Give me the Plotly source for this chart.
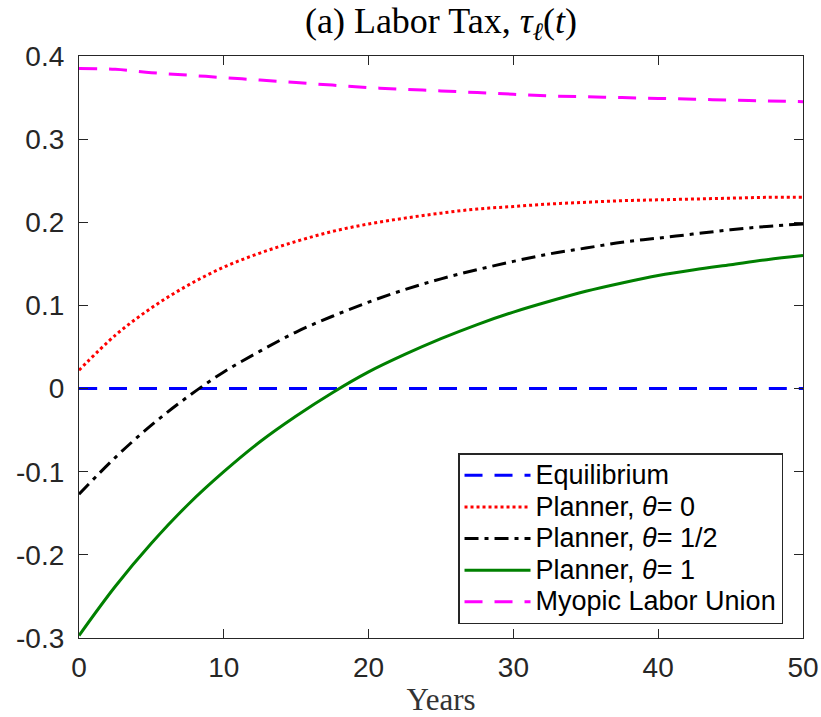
import plotly.graph_objects as go

years = [0, 2.5, 5, 7.5, 10, 12.5, 15, 17.5, 20, 22.5, 25, 27.5, 30, 32.5, 35, 37.5, 40, 42.5, 45, 47.5, 50]
equilibrium = [0.0] * len(years)
planner_0 = [0.022, 0.064, 0.097, 0.124, 0.146, 0.163, 0.177, 0.189, 0.198, 0.205, 0.211,
             0.216, 0.219, 0.222, 0.224, 0.226, 0.227, 0.228, 0.229, 0.230, 0.230]
planner_half = [-0.127, -0.083, -0.044, -0.010, 0.020, 0.045, 0.068, 0.087, 0.104, 0.119, 0.132,
                0.143, 0.153, 0.162, 0.169, 0.176, 0.181, 0.186, 0.191, 0.195, 0.198]
planner_1 = [-0.297, -0.238, -0.186, -0.140, -0.100, -0.064, -0.033, -0.005, 0.020, 0.041, 0.060,
             0.077, 0.092, 0.105, 0.117, 0.127, 0.136, 0.143, 0.149, 0.155, 0.160]
myopic_union = [0.385, 0.384, 0.380, 0.377, 0.374, 0.371, 0.368, 0.365, 0.362, 0.360, 0.358,
                0.356, 0.354, 0.352, 0.351, 0.350, 0.349, 0.348, 0.347, 0.346, 0.345]

x_ticks = [0, 10, 20, 30, 40, 50]
y_ticks = [-0.3, -0.2, -0.1, 0, 0.1, 0.2, 0.3, 0.4]
y_tick_labels = ["-0.3", "-0.2", "-0.1", "0", "0.1", "0.2", "0.3", "0.4"]

series_names = ["Equilibrium", "Planner, <i>θ</i>= 0", "Planner, <i>θ</i>= 1/2",
                "Planner, <i>θ</i>= 1", "Myopic Labor Union"]
series_values = [equilibrium, planner_0, planner_half, planner_1, myopic_union]
series_colors = ["#0000ff", "#ff0000", "#000000", "#008000", "#ff00ff"]
series_dashes = ["18px,12px", "dot", "14px,6px,4px,6px", "solid", "18px,12px"]

fig = go.Figure()
for name, vals, color, dash in zip(series_names, series_values, series_colors, series_dashes):
    fig.add_trace(go.Scatter(x=years, y=vals, mode="lines",
                             name=f'<span style="font-size:27px">{name}</span>',
                             line=dict(color=color, width=3, dash=dash, shape="spline")))

axis_color = "#262626"
serif = "Liberation Serif, Times New Roman, serif"
sans = "Liberation Sans, Arial, Helvetica, sans-serif"
fig.update_layout(
    width=821, height=717,
    margin=dict(l=79, r=18, t=56, b=79, autoexpand=False),
    paper_bgcolor="white", plot_bgcolor="white",
    title=dict(text="(a) Labor Tax, <i>τ</i><sub><i>ℓ</i></sub>(<i>t</i>)",
               x=441 / 821, xref="container", xanchor="center",
               y=1 - 20 / 717, yref="container", yanchor="middle",
               font=dict(family=serif, size=36, color="#000000")),
    xaxis=dict(range=[0, 50], tickvals=x_ticks, ticks="inside", ticklen=9, tickwidth=1.3,
               tickcolor=axis_color, showline=True, linecolor=axis_color, linewidth=1.3,
               mirror="ticks", showgrid=False, zeroline=False, ticklabelstandoff=4,
               tickfont=dict(family=sans, size=28, color=axis_color),
               title=dict(text="Years", standoff=6,
                          font=dict(family=serif, size=31, color="#333333"))),
    yaxis=dict(range=[-0.3, 0.4], tickvals=y_ticks, ticktext=y_tick_labels, ticks="inside",
               ticklen=9, tickwidth=1.3, tickcolor=axis_color, showline=True, linecolor=axis_color,
               linewidth=1.3, mirror="ticks", showgrid=False, zeroline=False, ticklabelstandoff=8,
               tickfont=dict(family=sans, size=28, color=axis_color)),
    legend=dict(x=0.9724, xanchor="right", y=0.024, yanchor="bottom",
                bgcolor="white", bordercolor="#262626", borderwidth=1.5,
                font=dict(family=sans, size=22, color="#000000"),
                tracegroupgap=0, itemwidth=66),
    showlegend=True,
)

fig.write_html("out.html", config={"displayModeBar": False},
               post_script="document.body.style.margin='0px';")
